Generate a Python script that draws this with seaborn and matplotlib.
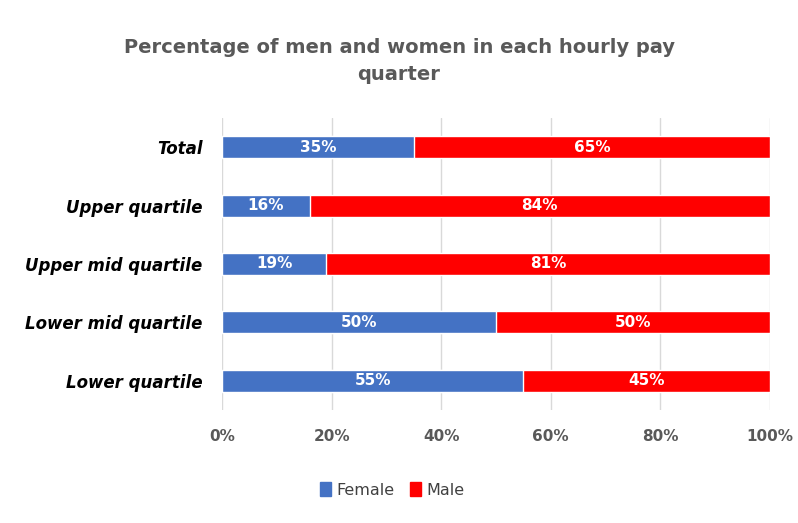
import matplotlib
matplotlib.use("Agg")
import matplotlib.pyplot as plt
import seaborn as sns
import pandas as pd
from matplotlib.patches import Patch

categories = ["Total", "Upper quartile", "Upper mid quartile", "Lower mid quartile", "Lower quartile"]
female = [35, 16, 19, 50, 55]
male = [65, 84, 81, 50, 45]
xticks = [0, 20, 40, 60, 80, 100]

df = pd.DataFrame({"category": categories, "Female": female, "Male": male})
df["cum"] = df["Female"] + df["Male"]

sns.set_theme(style="white")
plt.rcParams["font.family"] = ["DejaVu Sans"]

fig = plt.figure(figsize=(7.98, 5.23), dpi=100)
ax = fig.add_axes([222/798, 1-410/523, 548/798, 292/523])

blue = "#4472C4"
red = "#FF0000"

sns.barplot(data=df, y="category", x="cum", color=red, orient="h", width=0.38,
            ax=ax, saturation=1, order=categories)
sns.barplot(data=df, y="category", x="Female", color=blue, orient="h", width=0.38,
            ax=ax, saturation=1, order=categories)

male_c = ax.containers[0]
fem_c = ax.containers[1]
for i, (fb, mb) in enumerate(zip(fem_c, male_c)):
    yc = fb.get_y() + fb.get_height()/2
    ax.text(fb.get_width()/2, yc, f"{female[i]}%", ha="center", va="center",
            color="white", fontsize=11, fontweight="bold")
    ax.text(fb.get_width() + male[i]/2, yc, f"{male[i]}%", ha="center", va="center",
            color="white", fontsize=11, fontweight="bold")

ax.set_xlim(0, 100)
ax.set_xticks(xticks)
ax.set_xticklabels([f"{t}%" for t in xticks], fontsize=11, fontweight="bold", color="#595959")
ax.tick_params(axis="x", pad=14, length=0)
ax.tick_params(axis="y", pad=14, length=0)
for lab in ax.get_yticklabels():
    lab.set_fontsize(12)
    lab.set_fontweight("bold")
    lab.set_fontstyle("italic")
    lab.set_color("black")
ax.set_xlabel("")
ax.set_ylabel("")
ax.grid(axis="x", color="#D9D9D9", linewidth=1)
ax.set_axisbelow(True)
for s in ax.spines.values():
    s.set_visible(False)

fig.text(0.5, 1-61/523, "Percentage of men and women in each hourly pay\nquarter",
         ha="center", va="center", fontsize=14, fontweight="bold", color="#595959",
         linespacing=1.5)

handles = [Patch(color=blue, label="Female"), Patch(color=red, label="Male")]
fig.legend(handles=handles, loc="center", bbox_to_anchor=(392/798, 1-490/523), ncol=2,
           frameon=False, fontsize=11.5, handlelength=0.7, handleheight=0.9,
           handletextpad=0.3, columnspacing=1.0, labelcolor="#404040")

fig.savefig("out.png", dpi=100, facecolor="white")
